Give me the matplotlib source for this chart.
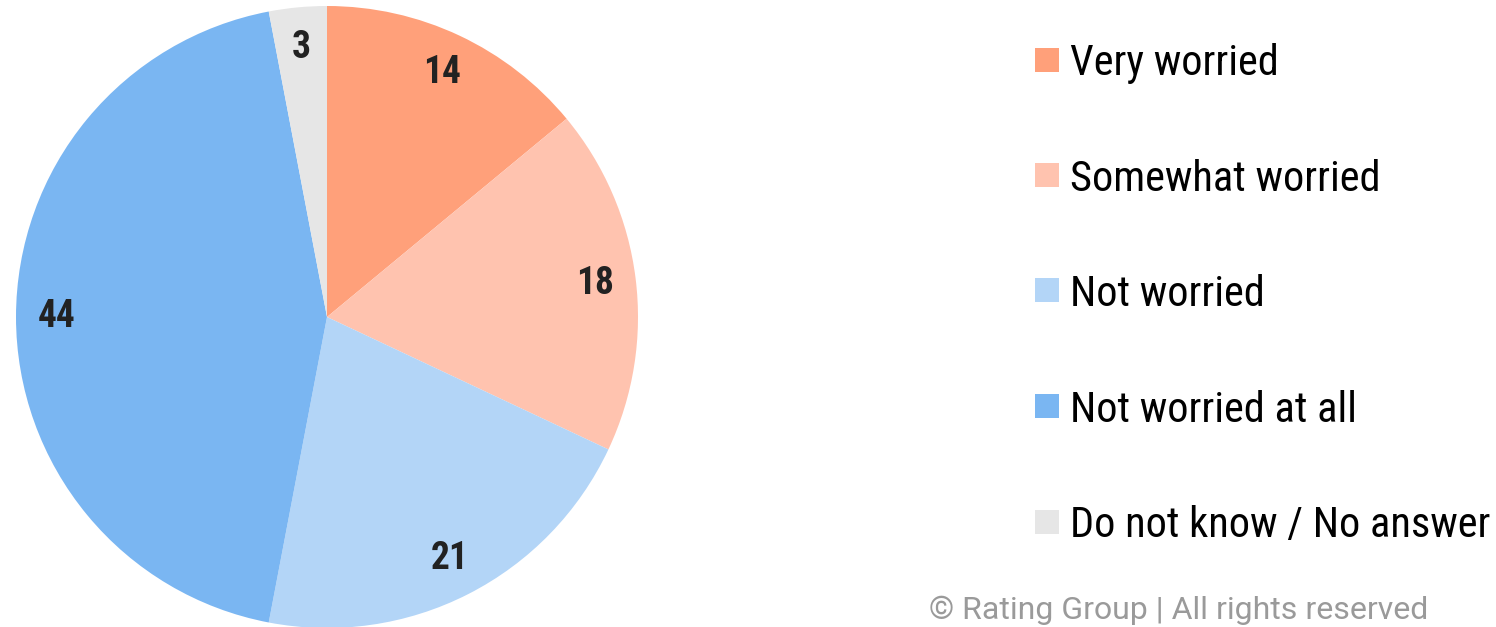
import matplotlib
matplotlib.use("Agg")
import matplotlib.pyplot as plt
from matplotlib.patches import Rectangle

# survey answers, percent
labels = ['Very worried', 'Somewhat worried', 'Not worried',
          'Not worried at all', 'Do not know / No answer']
values = [14, 18, 21, 44, 3]
colors = ['#FFA07A', '#FFC3AF', '#B3D5F7', '#7AB6F2', '#E6E6E6']

narrow = ['Roboto Condensed', 'Barlow Condensed', 'Roboto']

W, H = 1496, 627
fig = plt.figure(figsize=(W / 100, H / 100), dpi=100)

# pie: center (327, 317) px, radius ~311 px
r = 311
ax = fig.add_axes([(327 - r) / W, (H - 317 - r) / H, 2 * r / W, 2 * r / H])
wedges, _, autotexts = ax.pie(values, colors=colors, startangle=90, counterclock=False,
                              radius=1, autopct=lambda p: f'{p:.0f}', pctdistance=0.87,
                              wedgeprops=dict(linewidth=0))
for t in autotexts:
    t.set_fontfamily(narrow)
    t.set_fontweight('bold')
    t.set_fontsize(27)
    t.set_color('#222222')
ax.set_xlim(-1, 1)
ax.set_ylim(-1, 1)
ax.set_aspect('equal')
ax.axis('off')

# legend drawn by hand to match spacing
y0, dy = 59.5, 115.5
for i, (lab, c) in enumerate(zip(labels, colors)):
    yc = y0 + i * dy
    fig.patches.append(Rectangle((1035 / W, (H - yc - 12) / H), 24 / W, 24 / H,
                                 transform=fig.transFigure, color=c, lw=0))
    fig.text(1070 / W, (H - yc) / H, lab, fontsize=30.5, family=narrow,
             va='center_baseline', ha='left', color='black')

fig.text(1428 / W, (H - 619) / H, '© Rating Group | All rights reserved',
         fontsize=23, family='Roboto', color='#9A9A9A', ha='right', va='baseline')

fig.savefig('out.png', dpi=100)
